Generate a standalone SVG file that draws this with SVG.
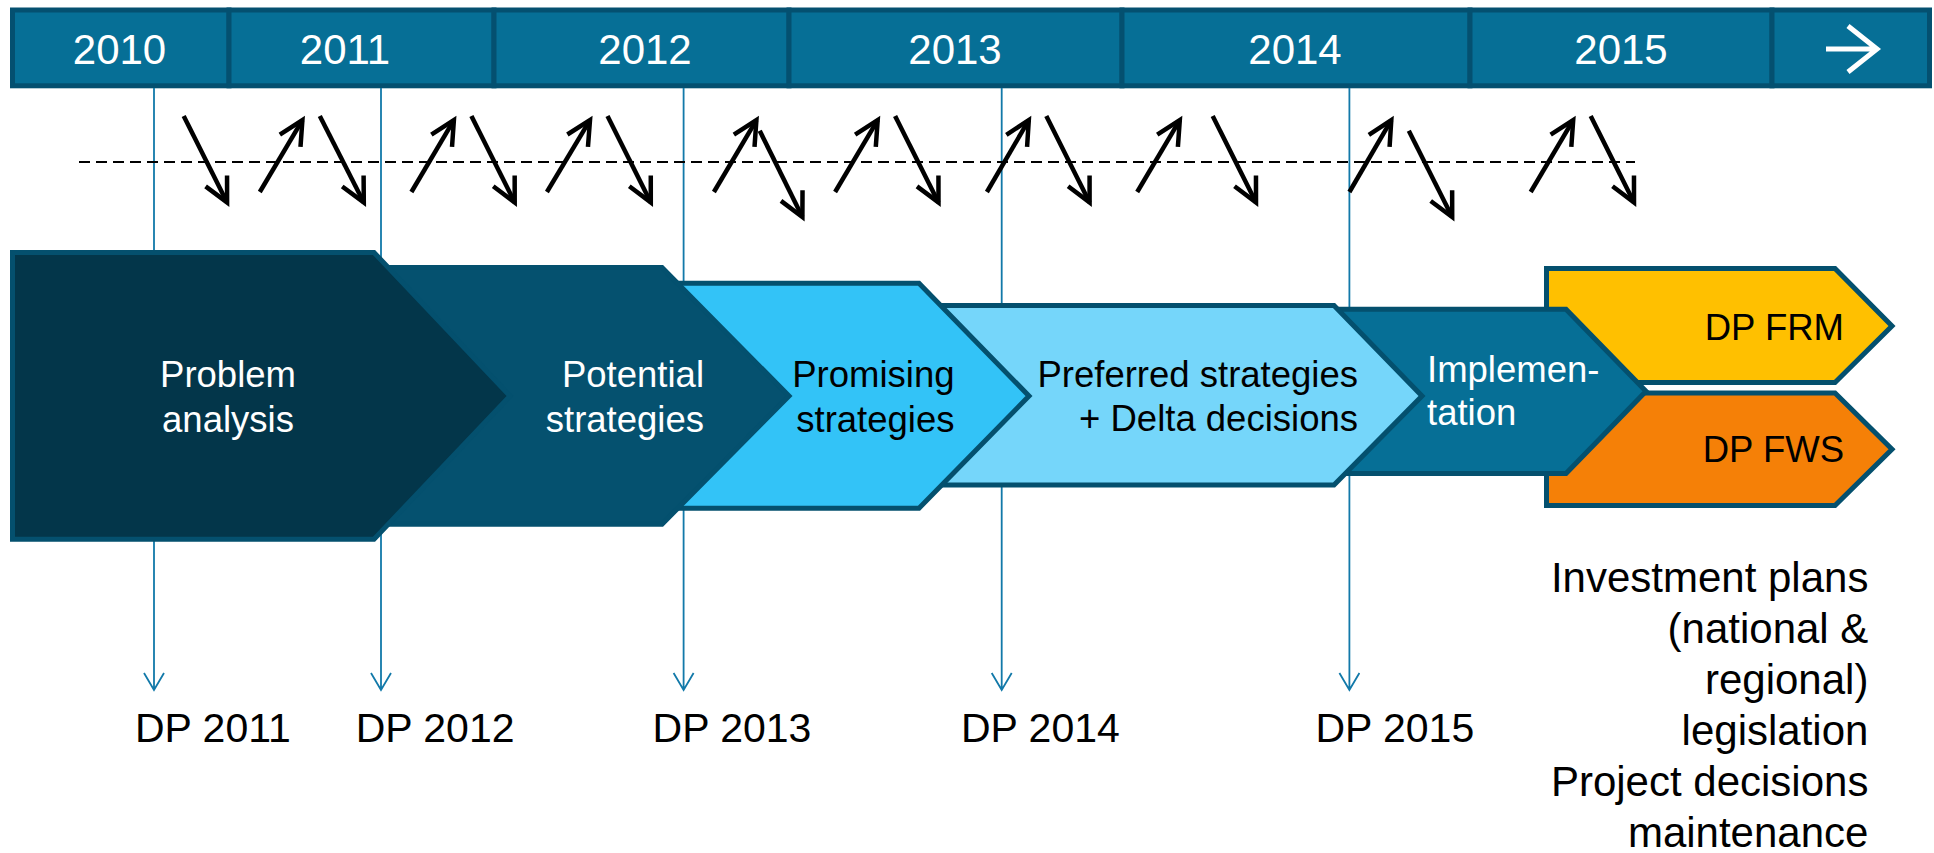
<svg xmlns="http://www.w3.org/2000/svg" width="1934" height="853" viewBox="0 0 1934 853">
<defs>
<style>
.seg{fill:#066F96;stroke:#045070;stroke-width:5}
.yr{font-family:"Liberation Sans",Arial,sans-serif;font-size:42px;fill:#fff;text-anchor:middle}
.vl{stroke:#1279A9;stroke-width:1.8;fill:none}
.zz{stroke:#000;stroke-width:4.5;fill:none;marker-end:url(#ah)}
.chev{stroke:#04506E;stroke-width:5;stroke-linejoin:miter}
.t{font-family:"Liberation Sans",Arial,sans-serif;font-size:36.5px}
.w{fill:#fff}
.k{fill:#000}
.dp{font-family:"Liberation Sans",Arial,sans-serif;font-size:41px;fill:#000}
.rb{font-family:"Liberation Sans",Arial,sans-serif;font-size:42px;fill:#000;text-anchor:end}
</style>
<marker id="ah" markerUnits="userSpaceOnUse" markerWidth="40" markerHeight="40" viewBox="-30 -20 40 40" refX="0" refY="0" orient="auto" overflow="visible">
<path d="M-24,-12 L0,0 L-24,12" fill="none" stroke="#000" stroke-width="4.5" stroke-linejoin="miter"/>
</marker>
</defs>

<g id="timeline">
<rect class="seg" x="12.5" y="10" width="216.5" height="75.8"/>
<rect class="seg" x="229" y="10" width="265" height="75.8"/>
<rect class="seg" x="494" y="10" width="295" height="75.8"/>
<rect class="seg" x="789" y="10" width="333" height="75.8"/>
<rect class="seg" x="1122" y="10" width="348" height="75.8"/>
<rect class="seg" x="1470" y="10" width="302" height="75.8"/>
<rect class="seg" x="1772" y="10" width="157.5" height="75.8"/>
<text class="yr" x="119.5" y="64">2010</text>
<text class="yr" x="345" y="64">2011</text>
<text class="yr" x="645" y="64">2012</text>
<text class="yr" x="955" y="64">2013</text>
<text class="yr" x="1295" y="64">2014</text>
<text class="yr" x="1621" y="64">2015</text>
<path d="M1826,49 H1875 M1848,26 L1877,49 L1848,72" fill="none" stroke="#fff" stroke-width="5"/>
</g>

<g id="connectors">
<path class="vl" d="M154,88 V690 M144,673 L154,690 L164,673"/>
<path class="vl" d="M381,88 V690 M371,673 L381,690 L391,673"/>
<path class="vl" d="M683.6,88 V690 M673.6,673 L683.6,690 L693.6,673"/>
<path class="vl" d="M1001.7,88 V690 M991.7,673 L1001.7,690 L1011.7,673"/>
<path class="vl" d="M1349.4,88 V690 M1339.4,673 L1349.4,690 L1359.4,673"/>
</g>

<g id="dashed-line">
<line x1="79" y1="162" x2="1635" y2="162" stroke="#000" stroke-width="2" stroke-dasharray="11 6"/>
</g>

<g id="phases">
<g id="dp-fws">
<path class="chev" fill="#F58007" d="M1546.5,393 L1835,393 L1892,449.3 L1835,505.5 L1546.5,505.5 Z" stroke-linejoin="round"/>
<text class="t k" x="1844" y="461.7" text-anchor="end">DP FWS</text>
</g>
<g id="dp-frm">
<path class="chev" fill="#FFC000" d="M1546.5,268.5 L1835,268.5 L1892,326 L1835,382.5 L1546.5,382.5 Z" stroke-linejoin="round"/>
<text class="t k" x="1844" y="340" text-anchor="end">DP FRM</text>
</g>
<g id="implementation">
<path class="chev" fill="#066F96" d="M1250,309.2 L1566,309.2 L1646,391.3 L1566,473.5 L1250,473.5 Z"/>
<text class="t w" x="1427" y="381.7">Implemen-</text>
<text class="t w" x="1427" y="425">tation</text>
</g>
<g id="preferred">
<path class="chev" fill="#75D6FA" d="M900,305.5 L1334,305.5 L1422,396 L1334,485 L900,485 Z"/>
<text class="t k" x="1358" y="387" text-anchor="end">Preferred strategies</text>
<text class="t k" x="1358" y="431" text-anchor="end">+ Delta decisions</text>
</g>
<g id="promising">
<path class="chev" fill="#33C3F7" d="M600,283.2 L919,283.2 L1029,396 L919,508.2 L600,508.2 Z"/>
<text class="t k" x="954.5" y="387" text-anchor="end">Promising</text>
<text class="t k" x="954.5" y="431.5" text-anchor="end">strategies</text>
</g>
<g id="potential">
<path class="chev" fill="#05516F" d="M300,267.5 L662,267.5 L789,396 L662,524.2 L300,524.2 Z"/>
<text class="t w" x="704" y="387" text-anchor="end">Potential</text>
<text class="t w" x="704" y="431.5" text-anchor="end">strategies</text>
</g>
<g id="problem">
<path class="chev" fill="#03364A" d="M12.5,252.5 L374,252.5 L510,396 L374,539.2 L12.5,539.2 Z"/>
<text class="t w" x="228" y="387" text-anchor="middle">Problem</text>
<text class="t w" x="228" y="431.5" text-anchor="middle">analysis</text>
</g>
</g>

<g id="zigzag">
<line class="zz" x1="183.7" y1="116" x2="227.1" y2="202.4"/>
<line class="zz" x1="259.8" y1="192" x2="302.4" y2="120.1"/>
<line class="zz" x1="319.8" y1="116" x2="363.8" y2="202.4"/>
<line class="zz" x1="411.4" y1="192" x2="453.9" y2="120.1"/>
<line class="zz" x1="471.4" y1="116" x2="514.7" y2="202.4"/>
<line class="zz" x1="546.9" y1="192" x2="590" y2="120.1"/>
<line class="zz" x1="607.5" y1="116" x2="650.8" y2="202.4"/>
<line class="zz" x1="713.9" y1="192" x2="756.4" y2="120.1"/>
<line class="zz" x1="759.7" y1="130.7" x2="802.4" y2="217.1"/>
<line class="zz" x1="835.1" y1="192" x2="877.7" y2="120.1"/>
<line class="zz" x1="895.1" y1="116" x2="938.5" y2="202.4"/>
<line class="zz" x1="986.9" y1="192" x2="1028.8" y2="120.1"/>
<line class="zz" x1="1046.3" y1="116" x2="1089.6" y2="202.4"/>
<line class="zz" x1="1137.2" y1="192" x2="1179.8" y2="120.1"/>
<line class="zz" x1="1212.7" y1="116" x2="1256" y2="202.4"/>
<line class="zz" x1="1349.4" y1="192" x2="1391.3" y2="120.1"/>
<line class="zz" x1="1408.8" y1="130.7" x2="1452.2" y2="217.1"/>
<line class="zz" x1="1530.7" y1="192" x2="1573.2" y2="120.1"/>
<line class="zz" x1="1590.7" y1="116" x2="1634" y2="202.4"/>
</g>

<g id="dp-labels">
<text class="dp" x="135" y="741.7">DP 2011</text>
<text class="dp" x="355.7" y="741.7">DP 2012</text>
<text class="dp" x="652.6" y="741.7">DP 2013</text>
<text class="dp" x="961" y="741.7">DP 2014</text>
<text class="dp" x="1315.4" y="741.7">DP 2015</text>
</g>

<g id="outcomes">
<text class="rb" x="1868.4" y="591.7">Investment plans</text>
<text class="rb" x="1868.4" y="642.7">(national &amp;</text>
<text class="rb" x="1868.4" y="693.5">regional)</text>
<text class="rb" x="1868.4" y="745">legislation</text>
<text class="rb" x="1868.4" y="796">Project decisions</text>
<text class="rb" x="1868.4" y="846.5">maintenance</text>
</g>
</svg>
